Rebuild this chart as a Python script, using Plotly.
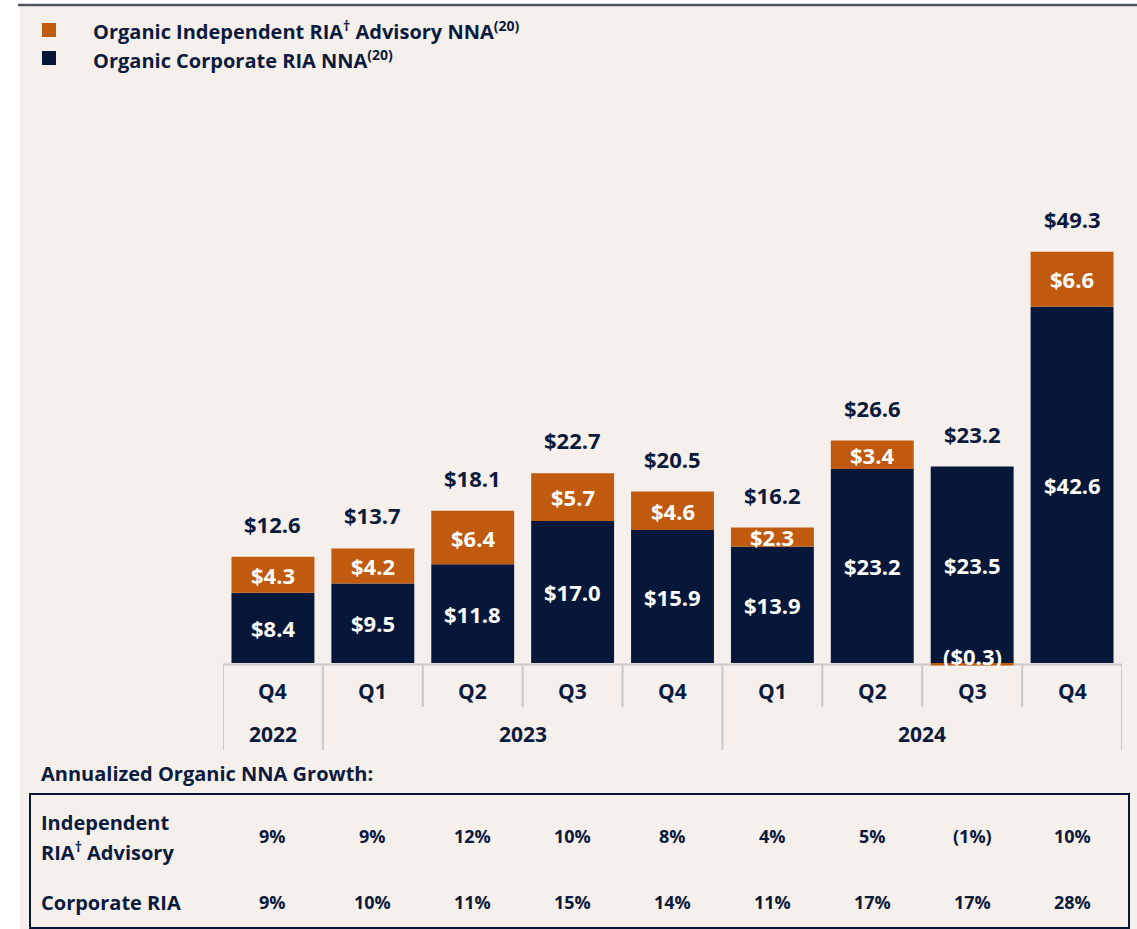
import plotly.graph_objects as go

# ---------------- data ----------------
quarters = ["Q4", "Q1", "Q2", "Q3", "Q4", "Q1", "Q2", "Q3", "Q4"]
years = ["2022", "2023", "2024"]
year_first = [0, 1, 5]
year_last = [0, 4, 8]
corporate = [8.4, 9.5, 11.8, 17.0, 15.9, 13.9, 23.2, 23.5, 42.6]
independent = [4.3, 4.2, 6.4, 5.7, 4.6, 2.3, 3.4, -0.3, 6.6]
totals = [12.6, 13.7, 18.1, 22.7, 20.5, 16.2, 26.6, 23.2, 49.3]
growth_independent = ["9%", "9%", "12%", "10%", "8%", "4%", "5%", "(1%)", "10%"]
growth_corporate = ["9%", "10%", "11%", "15%", "14%", "11%", "17%", "17%", "28%"]

# ---------------- style ----------------
W, H = 1137, 929
NAVY = "#07173a"
ORANGE = "#c05a0e"
TEXT = "#0b1a3d"
BEIGE = "#f5f0ec"
GRAY = "#c9c9c9"
FONT = "Open Sans"

def px(x):
    return x / W

def py(y):
    return 1 - y / H

def money(v):
    return f"${v:.1f}" if v >= 0 else f"(${-v:.1f})"

idx = list(range(len(quarters)))
# y mapping: value 0 at pixel 663, 8.36 px per unit
PPU = 8.36
y_bot_px, y_top_px = 700, 100
y_range = [-(y_bot_px - 663) / PPU, (663 - y_top_px) / PPU]

fig = go.Figure()
fig.add_trace(go.Bar(x=idx, y=corporate, marker=dict(color=NAVY, line=dict(width=0)),
                     width=0.83, name="Organic Corporate RIA NNA", hoverinfo="skip"))
fig.add_trace(go.Bar(x=idx, y=independent, marker=dict(color=ORANGE, line=dict(width=0)),
                     width=0.83, name="Organic Independent RIA Advisory NNA", hoverinfo="skip"))

shapes = []
# beige panel + top rule
shapes.append(dict(type="rect", xref="paper", yref="paper", x0=px(20), x1=px(W), y0=py(H), y1=py(6),
                   fillcolor=BEIGE, line=dict(width=0), layer="below"))
shapes.append(dict(type="line", xref="paper", yref="paper", x0=px(18), x1=px(W), y0=py(5), y1=py(5),
                   line=dict(color="#4d5566", width=2.5), layer="below"))
# axis baseline
shapes.append(dict(type="line", xref="x", yref="paper", x0=-0.5, x1=8.5, y0=py(664.5), y1=py(664.5),
                   line=dict(color=GRAY, width=2), layer="below"))
# separators
year_bounds = set([year_first[k] - 0.5 for k in range(len(years))] + [year_last[-1] + 0.5])
for k in range(len(quarters) + 1):
    b = k - 0.5
    bottom = 750 if b in year_bounds else 707
    shapes.append(dict(type="line", xref="x", yref="paper", x0=b, x1=b, y0=py(665), y1=py(bottom),
                       line=dict(color=GRAY, width=2), layer="below"))
# legend squares
shapes.append(dict(type="rect", xref="paper", yref="paper", x0=px(42), x1=px(56), y0=py(37), y1=py(23),
                   fillcolor=ORANGE, line=dict(width=0)))
shapes.append(dict(type="rect", xref="paper", yref="paper", x0=px(42), x1=px(56), y0=py(65), y1=py(51),
                   fillcolor=NAVY, line=dict(width=0)))
# table box
shapes.append(dict(type="rect", xref="paper", yref="paper", x0=px(30), x1=px(1129), y0=py(928), y1=py(794),
                   fillcolor="rgba(0,0,0,0)", line=dict(color=NAVY, width=2)))

ann = []
def add_text(text, x, y, size, color=TEXT, xref="paper", yref="paper", xanchor="center",
             yanchor="middle", yshift=0, align="center"):
    ann.append(dict(text=f"<b>{text}</b>", x=x, y=y, xref=xref, yref=yref, xanchor=xanchor,
                    yanchor=yanchor, yshift=yshift, showarrow=False, align=align,
                    font=dict(family=FONT, size=size, color=color)))

# bar labels
for i in idx:
    c, d = corporate[i], independent[i]
    add_text(money(c), i, c / 2, 22, color="white", xref="x", yref="y")
    if d > 0:
        add_text(money(d), i, c + d / 2, 22, color="white", xref="x", yref="y")
    else:
        add_text(money(d), i, 0, 22, color="white", xref="x", yref="y", yshift=7)
    top = max(c, c + d)
    add_text(money(totals[i]), i, top, 22, xref="x", yref="y", yshift=33)

# category axis labels
for i in idx:
    add_text(quarters[i], i, py(691), 21, xref="x")
for k, yr in enumerate(years):
    add_text(yr, (year_first[k] + year_last[k]) / 2, py(734), 21, xref="x")

# legend text
add_text("Organic Independent RIA<sup>†</sup> Advisory NNA<sup>(20)</sup>", px(91), py(31), 20,
         xanchor="left")
add_text("Organic Corporate RIA NNA<sup>(20)</sup>", px(91), py(59), 20, xanchor="left")

# growth table
add_text("Annualized Organic NNA Growth:", px(39), py(773), 20, xanchor="left")
add_text("Independent", px(39), py(822), 20, xanchor="left")
add_text("RIA<sup>†</sup> Advisory", px(39), py(851), 20, xanchor="left")
add_text("Corporate RIA", px(39), py(902), 20, xanchor="left")
for i in idx:
    add_text(growth_independent[i], i, py(836), 18, xref="x")
    add_text(growth_corporate[i], i, py(902), 18, xref="x")

fig.update_layout(
    width=W, height=H, margin=dict(l=0, r=0, t=0, b=0),
    paper_bgcolor="white", plot_bgcolor="rgba(0,0,0,0)",
    barmode="relative", bargap=0.17, showlegend=False,
    xaxis=dict(domain=[px(223), px(1122)], range=[-0.5, 8.5], visible=False, fixedrange=True),
    yaxis=dict(domain=[py(y_bot_px), py(y_top_px)], range=y_range, visible=False, fixedrange=True),
    shapes=shapes, annotations=ann,
    font=dict(family=FONT, color=TEXT),
)

fig.write_html("out.html", config={"displayModeBar": False},
               post_script="document.body.style.margin='0px';document.body.style.overflow='hidden';")
